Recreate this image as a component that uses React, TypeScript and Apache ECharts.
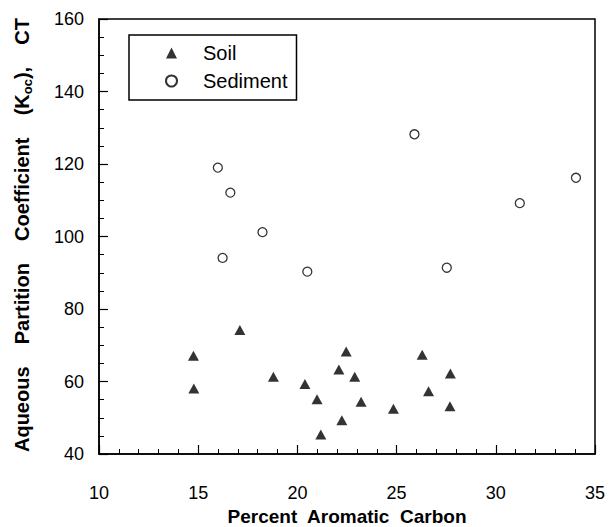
import React, { useEffect, useRef } from "react";
import * as echarts from "echarts";

const soilX = [14.76, 14.78, 17.1, 18.79, 20.38, 20.99, 21.18, 22.09, 22.24, 22.46, 22.89, 23.21, 24.84, 26.29, 26.61, 27.71, 27.69];
const soilY = [67.1, 58.1, 74.2, 61.3, 59.3, 55.1, 45.4, 63.3, 49.3, 68.3, 61.3, 54.4, 52.5, 67.4, 57.3, 62.2, 53.2];
const sedX = [15.99, 16.62, 18.24, 16.23, 20.5, 25.9, 27.53, 31.21, 34.04];
const sedY = [119.0, 112.1, 101.2, 94.1, 90.3, 128.2, 91.4, 109.2, 116.2];
const xTicks = [10, 15, 20, 25, 30, 35];
const yTicks = [40, 60, 80, 100, 120, 140, 160];

const FONT = "Liberation Sans";

export default function App() {
  const ref = useRef<HTMLDivElement>(null);
  useEffect(() => {
    if (!ref.current) return;
    const chart = echarts.init(ref.current, undefined, { renderer: "svg" });
    const axisCommon = {
      axisLine: { show: true, lineStyle: { color: "#000", width: 1.5 } },
      axisTick: { show: true, inside: true, length: 9, lineStyle: { color: "#000", width: 1.2 } },
      minorTick: { show: true, length: 5, lineStyle: { color: "#000", width: 1 } },
      splitLine: { show: false },
    };
    chart.setOption({
      animation: false,
      backgroundColor: "#fff",
      grid: {
        left: 99, right: 15, top: 19, bottom: 73,
        show: true, borderColor: "#000", borderWidth: 1.5,
        containLabel: false, outerBoundsMode: "none",
      },
      xAxis: {
        type: "value",
        min: xTicks[0],
        max: xTicks[xTicks.length - 1],
        interval: 5,
        ...axisCommon,
        minorTick: { ...axisCommon.minorTick, splitNumber: 5 },
        axisLabel: { color: "#000", fontSize: 18, fontFamily: FONT, margin: 30 },
        name: "Percent  Aromatic  Carbon",
        nameLocation: "middle",
        nameGap: 50,
        nameTextStyle: { color: "#000", fontSize: 19, fontWeight: "bold", fontFamily: FONT, lineHeight: 20 },
      },
      yAxis: {
        type: "value",
        min: yTicks[0],
        max: yTicks[yTicks.length - 1],
        interval: 20,
        ...axisCommon,
        minorTick: { ...axisCommon.minorTick, splitNumber: 4 },
        axisLabel: { color: "#000", fontSize: 18, fontFamily: FONT, margin: 15 },
      },
      legend: {
        orient: "vertical",
        left: 129,
        top: 35,
        padding: [8, 9, 9, 36],
        itemGap: 8,
        itemWidth: 11,
        itemHeight: 11,
        borderColor: "#000",
        borderWidth: 1.5,
        textStyle: { color: "#000", fontSize: 20, fontFamily: FONT, padding: [0, 0, 0, 21] },
        data: ["Soil", "Sediment"],
      },
      graphic: [
        {
          type: "text",
          x: 22,
          y: 235,
          rotation: Math.PI / 2,
          style: {
            text: "Aqueous    Partition    Coefficient    (K{sub|oc}),    CT",
            fill: "#000",
            font: `bold 20px '${FONT}'`,
            align: "center",
            verticalAlign: "middle",
            rich: {
              sub: { fontSize: 13, fontWeight: "bold", fontFamily: FONT, fill: "#000", verticalAlign: "bottom", lineHeight: 24 },
            },
          },
        },
      ],
      series: [
        {
          name: "Soil",
          type: "scatter",
          symbol: "triangle",
          symbolSize: [11, 10],
          itemStyle: { color: "#000" },
          data: soilX.map((x, i) => [x, soilY[i]]),
        },
        {
          name: "Sediment",
          type: "scatter",
          symbol: "circle",
          symbolSize: 9,
          itemStyle: { color: "#fff", borderColor: "#000", borderWidth: 1.3 },
          data: sedX.map((x, i) => [x, sedY[i]]),
        },
      ],
    });
    return () => chart.dispose();
  }, []);
  return <div ref={ref} style={{ position: "fixed", left: 0, top: 0, width: 610, height: 527 }} />;
}
